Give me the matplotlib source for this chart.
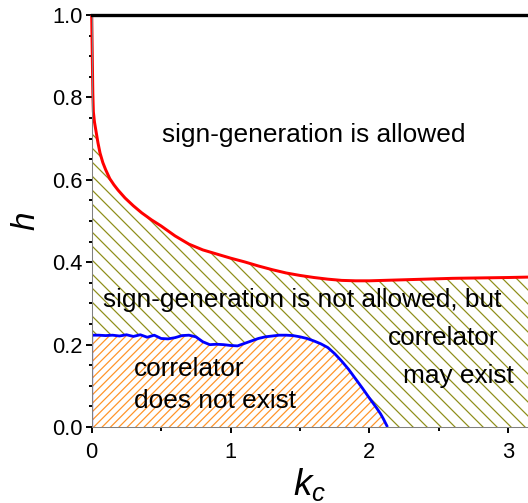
import matplotlib
matplotlib.use("Agg")
import matplotlib.pyplot as plt
import numpy as np

plt.rcParams['font.family'] = ['Liberation Sans', 'DejaVu Sans']
plt.rcParams['mathtext.fontset'] = 'custom'
plt.rcParams['mathtext.it'] = 'Liberation Sans:italic'
plt.rcParams['mathtext.rm'] = 'Liberation Sans'
plt.rcParams['hatch.linewidth'] = 0.7

# red boundary: sign-generation allowed above
red_x = [0, 0.002, 0.005, 0.008, 0.012, 0.02, 0.03, 0.045, 0.06, 0.08, 0.1, 0.13, 0.16, 0.19,
         0.24, 0.3, 0.36, 0.43, 0.5, 0.6, 0.7, 0.8, 0.9, 1.0, 1.1, 1.2, 1.3, 1.4, 1.5, 1.6,
         1.7, 1.8, 1.9, 2.0, 2.2, 2.4, 2.6, 2.8, 3.0, np.pi]
red_y = [1.0, 0.95, 0.88, 0.81, 0.765, 0.74, 0.72, 0.69, 0.665, 0.642, 0.625, 0.603, 0.588, 0.575,
         0.556, 0.537, 0.52, 0.503, 0.488, 0.464, 0.444, 0.43, 0.42, 0.41, 0.401, 0.391, 0.382,
         0.374, 0.368, 0.363, 0.359, 0.356, 0.355, 0.355, 0.357, 0.359, 0.361, 0.362, 0.363, 0.364]

# hatched region starts a bit below the vertical part of the red curve
fill_x = [0] + red_x[4:]
fill_y = [0.745] + red_y[4:]

# blue boundary: correlator does not exist below
blue_x = [0, 0, 0.05, 0.1, 0.15, 0.2, 0.25, 0.3, 0.35, 0.4, 0.45, 0.5, 0.55, 0.6, 0.65, 0.7,
          0.75, 0.8, 0.85, 0.9, 0.95, 1.0, 1.05, 1.1, 1.15, 1.2, 1.25, 1.3, 1.35, 1.4, 1.45,
          1.5, 1.55, 1.6, 1.65, 1.7, 1.75, 1.8, 1.85, 1.9, 1.95, 2.0, 2.05, 2.08, 2.1, 2.13]
blue_y = [0, 0.223, 0.223, 0.222, 0.223, 0.221, 0.224, 0.22, 0.224, 0.218, 0.223, 0.215, 0.214,
          0.217, 0.222, 0.223, 0.219, 0.207, 0.2, 0.201, 0.2, 0.198, 0.197, 0.203, 0.209, 0.215,
          0.219, 0.221, 0.223, 0.223, 0.222, 0.219, 0.215, 0.209, 0.202, 0.193, 0.178, 0.16,
          0.14, 0.117, 0.094, 0.07, 0.047, 0.032, 0.02, 0.0]

fig = plt.figure(figsize=(528 / 126, 503 / 126), dpi=126)
ax = fig.add_axes([0.1737, 0.151, 0.8263, 0.819])

ax.fill_between(fill_x, 0, fill_y, facecolor='white', edgecolor='#8f8f1a', hatch='\\\\\\', linewidth=0)
ax.fill_between(blue_x, 0, blue_y, facecolor='white', edgecolor='#ff9428', hatch='/////', linewidth=0)
ax.plot(red_x, red_y, color='#ff0000', lw=1.7, solid_capstyle='butt', solid_joinstyle='round', clip_on=False)
ax.plot(blue_x, blue_y, color='#0000ff', lw=1.6, solid_capstyle='butt', solid_joinstyle='round')

fs = 15
ax.text(1.6, 0.709, 'sign-generation is allowed', fontsize=fs, ha='center', va='center')
ax.text(0.08, 0.308, 'sign-generation is not allowed, but', fontsize=fs, ha='left', va='center')
ax.text(2.53, 0.215, 'correlator', fontsize=fs, ha='center', va='center')
ax.text(2.64, 0.125, 'may exist', fontsize=fs, ha='center', va='center')
ax.text(0.305, 0.14, 'correlator', fontsize=fs, ha='left', va='center')
ax.text(0.305, 0.063, 'does not exist', fontsize=fs, ha='left', va='center')

ax.set_xlim(0, np.pi)
ax.set_ylim(0, 1.0)
ax.set_xticks([0, 1, 2, 3])
ax.set_xticks([0.5, 1.5, 2.5], minor=True)
ax.set_yticks([0.0, 0.2, 0.4, 0.6, 0.8, 1.0])
ax.set_yticks(np.arange(0, 1.0001, 0.05), minor=True)
ax.set_yticklabels(['0.0', '0.2', '0.4', '0.6', '0.8', '1.0'])

ax.tick_params(axis='both', which='major', direction='out', length=3.3, width=1.1,
               labelsize=12.5, color='black')
ax.tick_params(axis='both', which='minor', direction='out', length=2, width=1.1, color='black')
ax.tick_params(axis='y', which='major', pad=1.8)
ax.tick_params(axis='x', which='major', pad=5)

for s in ['left', 'bottom']:
    ax.spines[s].set_color('#808080')
    ax.spines[s].set_linewidth(0.6)
ax.spines['right'].set_visible(False)
ax.spines['top'].set_color('black')
ax.spines['top'].set_linewidth(1.9)

ax.set_ylabel('$h$', fontsize=19, labelpad=6)
ax.set_xlabel('$k_c$', fontsize=21, labelpad=2)

fig.savefig('out.png', dpi=126)
